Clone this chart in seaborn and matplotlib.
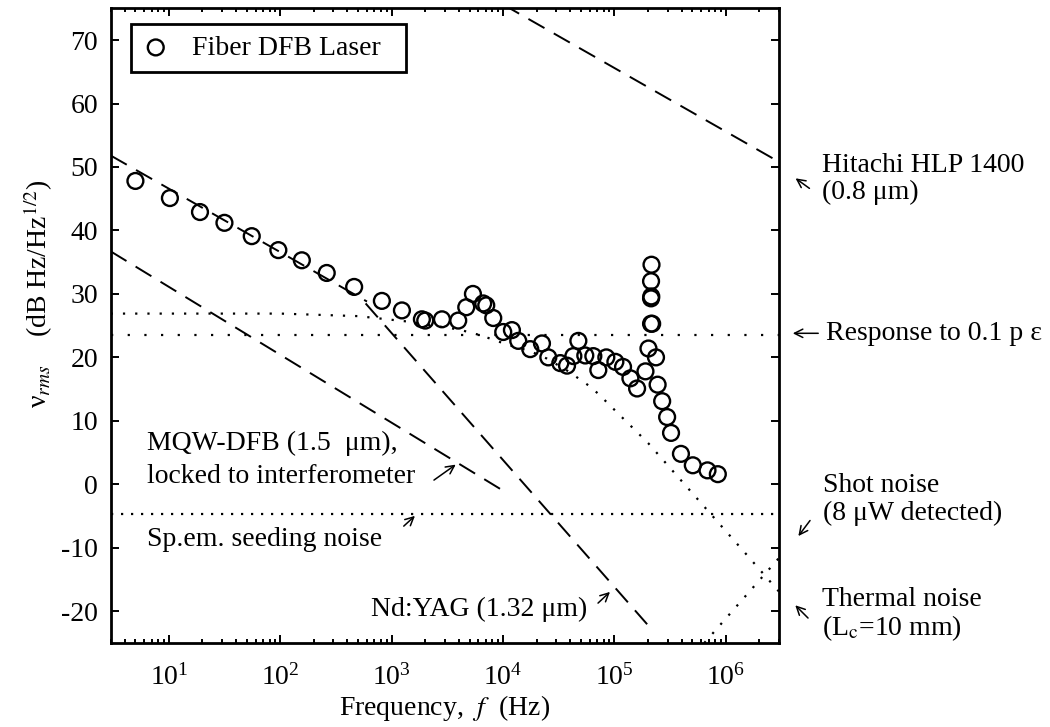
import numpy as np
import pandas as pd
import matplotlib
matplotlib.use("Agg")
import matplotlib.pyplot as plt
import seaborn as sns

# ---------------- data ----------------
fiber_f = [5.0, 10.2, 19, 31.5, 55.4, 96, 156, 261, 460, 816, 1235, 1866, 2000, 2826,
           3956, 4670, 5360, 6630, 7060, 8160, 10030, 12000, 13680, 17530, 22340, 25470,
           32630, 37500, 42740, 47400, 54700, 64600, 71600, 84500, 101900, 119400, 139000,
           159600, 189700, 201900, 213000, 218000, 213000, 214000, 213000, 215000, 236000,
           244000, 268000, 297000, 322000, 395000, 505000, 684000, 847000]
fiber_v = [47.8, 45.1, 42.9, 41.2, 39.1, 36.9, 35.3, 33.3, 31.1, 28.9, 27.4, 26.0, 25.8, 26.0,
           25.8, 27.9, 30.0, 28.5, 28.2, 26.2, 24.0, 24.3, 22.6, 21.3, 22.2, 20.0,
           19.1, 18.7, 20.2, 22.6, 20.3, 20.2, 18.0, 20.0, 19.3, 18.5, 16.7,
           15.1, 17.8, 21.4, 25.3, 25.3, 29.3, 29.6, 32.0, 34.6, 20.0,
           15.7, 13.1, 10.6, 8.1, 4.8, 3.0, 2.2, 1.6]

fiberfit_f = [3, 600]
fiberfit_v = [51.8, 28.8]
hitachi_f = [1.0e4, 3.0e6]
hitachi_v = [75.6, 50.8]
mqw_f = [3, 1.0e4]
mqw_v = [36.7, -1.0]
ndyag_f = [583, 2.0e5]
ndyag_v = [28.5, -22.2]

thermal_f = [3, 100, 500, 1470, 2370, 3990, 6240, 9440, 12900, 16900, 24800, 38600, 47400,
             58300, 71200, 85700, 101800, 120900, 143900, 170900, 202900, 893000, 1470000,
             2380000, 3000000]
thermal_v = [26.9, 26.9, 26.5, 25.6, 25.0, 24.4, 23.5, 22.4, 21.6, 21.1, 19.8, 17.8, 16.7,
             15.6, 14.3, 12.9, 11.6, 10.3, 9.0, 7.7, 6.4, -6.4, -10.7, -14.9, -16.9]
response_f = [3, 3.0e6]
response_v = [23.6, 23.6]
seeding_f = [3, 3.0e6]
seeding_v = [-4.6, -4.6]
shot_f = [6.4e5, 3.0e6]
shot_v = [-25.0, -11.6]

xticks = [1e1, 1e2, 1e3, 1e4, 1e5, 1e6]
yticks = [-20, -10, 0, 10, 20, 30, 40, 50, 60, 70]

# ---------------- style ----------------
sns.set_style("ticks")
plt.rcParams["font.family"] = ["Liberation Serif", "DejaVu Serif"]
plt.rcParams["mathtext.fontset"] = "stix"
plt.rcParams["axes.unicode_minus"] = False
plt.rcParams["text.color"] = "black"
plt.rcParams["axes.labelcolor"] = "black"
plt.rcParams["xtick.color"] = "black"
plt.rcParams["ytick.color"] = "black"
plt.rcParams["axes.edgecolor"] = "black"

W, H = 1050, 727
fig = plt.figure(figsize=(W / 100, H / 100), dpi=100)
ax = fig.add_axes([110.7 / W, 1 - 643 / H, 668.3 / W, 634.7 / H])
ax.set_xscale("log")

FS = 20

def px(x, y):
    return (x / W, 1 - y / H)

# lines
dash = (0, (9.5, 5.5))
sns.lineplot(x=fiberfit_f, y=fiberfit_v, ax=ax, color="k", lw=1.4, linestyle=dash, sort=False)
sns.lineplot(x=hitachi_f, y=hitachi_v, ax=ax, color="k", lw=1.4, linestyle=dash, sort=False)
sns.lineplot(x=mqw_f, y=mqw_v, ax=ax, color="k", lw=1.4, linestyle=dash, sort=False)
sns.lineplot(x=ndyag_f, y=ndyag_v, ax=ax, color="k", lw=1.4, linestyle=dash, sort=False)

sns.lineplot(x=thermal_f, y=thermal_v, ax=ax, color="k", lw=1.6, linestyle=(0, (1, 4.5)), sort=False)
sns.lineplot(x=response_f, y=response_v, ax=ax, color="k", lw=1.6, linestyle=(0, (1, 6.5)), sort=False)
sns.lineplot(x=seeding_f, y=seeding_v, ax=ax, color="k", lw=1.6, linestyle=(0, (1, 3.5)), sort=False)
sns.lineplot(x=shot_f, y=shot_v, ax=ax, color="k", lw=1.6, linestyle=(0, (1, 4.5)), sort=False)

sns.scatterplot(x=fiber_f, y=fiber_v, ax=ax, marker="o", s=130, facecolor="none",
                edgecolor="black", linewidth=1.7, label="Fiber DFB Laser", zorder=5)

ax.set_xlim(3, 3.0e6)
ax.set_ylim(-25, 75)
ax.set_xticks(xticks)
ax.set_yticks(yticks)
ax.set_yticklabels([str(t) for t in yticks])

for s in ax.spines.values():
    s.set_linewidth(2.0)
    s.set_visible(True)
    s.set_color("black")
ax.tick_params(which="both", direction="in", top=True, right=True, labelsize=FS, width=1.4)
ax.tick_params(which="major", length=5.5)
ax.tick_params(axis="x", which="major", pad=15)
ax.tick_params(axis="y", which="major", pad=9)
ax.tick_params(which="minor", length=2.8)

ax.set_xlabel(r"Frequency,  $f$  (Hz)", fontsize=FS, labelpad=2)
ax.set_ylabel(r"ν$_{rms}$    (dB Hz/Hz$^{1/2}$)", fontsize=FS)
ax.yaxis.set_label_coords(-0.084, 0.55)

leg = ax.legend(loc="upper left", bbox_to_anchor=(0.030, 0.975), borderaxespad=0,
                fontsize=FS, frameon=True, fancybox=False, handlelength=1.0,
                handletextpad=0.8, borderpad=0.4, markerscale=1.0)
leg.get_frame().set_edgecolor("black")
leg.get_frame().set_linewidth(2.0)
leg.get_frame().set_alpha(1)
leg.texts[0].set_text("Fiber DFB Laser  ")

# annotations
def ftext(x, y, s, ha="left"):
    fig.text(*px(x, y), s, fontsize=FS, ha=ha, va="center")

def farrow(x0, y0, x1, y1):
    fig.add_artist(matplotlib.patches.FancyArrowPatch(
        px(x0, y0), px(x1, y1), transform=fig.transFigure,
        arrowstyle="->,head_length=6,head_width=3", lw=1.1, color="k"))

ftext(821.7, 165, "Hitachi HLP 1400")
ftext(821.7, 192, "(0.8 μm)")
farrow(811.7, 190, 793.3, 176.7)

ftext(826, 333.3, "Response to 0.1 p ε")
farrow(821, 333.3, 790, 333.3)

ftext(823, 485, "Shot noise")
ftext(823, 513.3, "(8 μW detected)")
farrow(811.7, 518.3, 796.7, 538.3)

ftext(821.7, 600, "Thermal noise")
ftext(821.7, 628, r"(L$_{\mathrm{c}}$=10 mm)")
farrow(810, 620, 793.3, 603.3)

ftext(146.7, 443.3, "MQW-DFB (1.5  μm),")
ftext(146.7, 476.7, "locked to interferometer")
farrow(431.7, 481.7, 458, 463)

ftext(146.7, 540, "Sp.em. seeding noise")
farrow(401.7, 528, 417, 514)

ftext(586.8, 609, "Nd:YAG (1.32 μm)", ha="right")
farrow(596, 605, 612, 590)

fig.savefig("out.png", dpi=100)
